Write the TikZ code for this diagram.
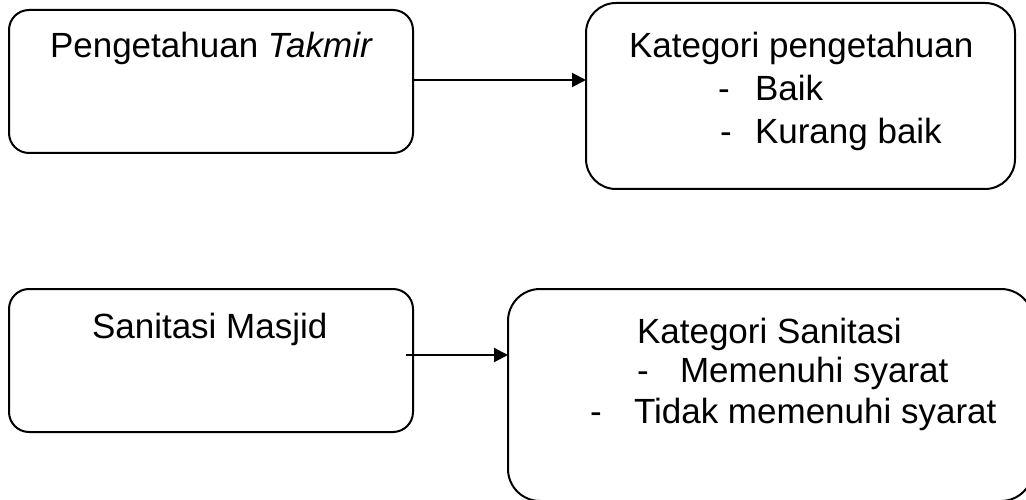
\documentclass[tikz,border=0pt]{standalone}
\usepackage{fontspec}
\setmainfont{Liberation Sans}
\usetikzlibrary{arrows.meta}
\begin{document}
\begin{tikzpicture}[x=1pt,y=-1pt,
  box/.style={draw=black,line width=2pt,rectangle,inner sep=0pt,outer sep=0pt},
  txt/.style={inner sep=0pt,outer sep=0pt,anchor=base west,font=\fontsize{35}{42}\selectfont},
  conn/.style={line width=2pt,-{Triangle[length=14pt,width=14pt]}}]
\useasboundingbox (0,0) rectangle (1026,500);
\clip (0,0) rectangle (1026,500);
\node[box,rounded corners=20pt,minimum width=404pt,minimum height=143pt] (b1) at (211,81.5) {};
\node[box,rounded corners=30pt,minimum width=429pt,minimum height=186pt] (b2) at (800.5,96) {};
\node[box,rounded corners=20pt,minimum width=404pt,minimum height=143pt] (b3) at (211,360.5) {};
\node[box,rounded corners=32pt,minimum width=525pt,minimum height=212pt] (b4) at (770.5,395) {};

\node[txt] (t1) at (50,58) {Pengetahuan \textit{Takmir}};
\node[txt] (t2) at (629,58) {Kategori pengetahuan};
\node[txt] (t2a) at (718,101) {-};
\node[txt] (t2b) at (755,101) {Baik};
\node[txt] (t2c) at (720,144) {-};
\node[txt] (t2d) at (755,144) {Kurang baik};

\node[txt] (t3) at (92,338) {Sanitasi Masjid};
\node[txt] (t4) at (637,343) {Kategori Sanitasi};
\node[txt] (t4a) at (637,382) {-};
\node[txt] (t4b) at (680,382) {Memenuhi syarat};
\node[txt] (t4c) at (590,423) {-};
\node[txt] (t4d) at (634,423) {Tidak memenuhi syarat};

\draw[conn] (b1.east |- 0,80) -- (b2.west |- 0,80);
\coordinate (s2) at (406,355);
\draw[conn] (s2) -- (b4.west |- s2);
\end{tikzpicture}
\end{document}
